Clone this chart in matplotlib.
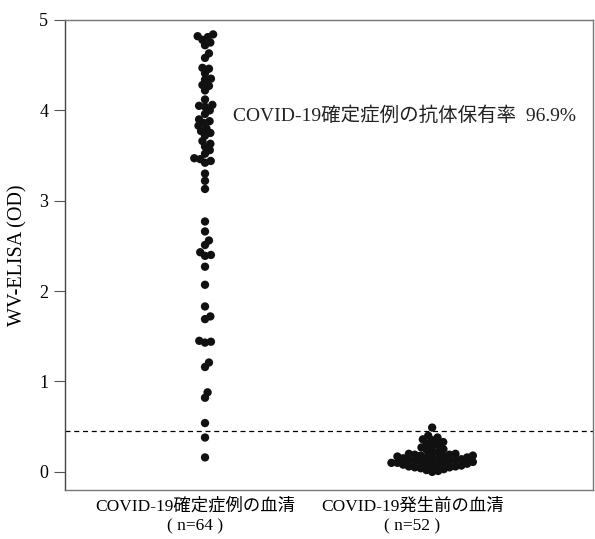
import numpy as np
import matplotlib
matplotlib.use("Agg")
import matplotlib.pyplot as plt
import matplotlib.transforms as mtransforms

# data
groups = ["COVID-19確定症例の血清\n( n=64 )", "COVID-19発生前の血清\n( n=52 )"]
confirmed = [4.84, 4.82, 4.81, 4.78, 4.75, 4.72, 4.63, 4.58,
             4.47, 4.46, 4.41, 4.35, 4.34, 4.28, 4.27, 4.22,
             4.12, 4.06, 4.05, 4.04, 4.00,
             3.96, 3.90, 3.88, 3.86, 3.83, 3.80, 3.77, 3.75, 3.72,
             3.66, 3.63, 3.60, 3.56, 3.52, 3.47, 3.46, 3.44, 3.42,
             3.30, 3.22, 3.13,
             2.77, 2.66, 2.56, 2.51, 2.43, 2.40, 2.39, 2.27, 2.07,
             1.83, 1.72, 1.69, 1.45, 1.44, 1.43,
             1.21, 1.16, 0.88, 0.82, 0.54, 0.38, 0.16]
pre_covid = [0.49,
             0.40, 0.38, 0.36, 0.35, 0.33, 0.31, 0.30, 0.28, 0.27, 0.25,
             0.24, 0.22, 0.21, 0.20, 0.20, 0.19, 0.19, 0.18, 0.18, 0.17,
             0.17, 0.16, 0.16, 0.15, 0.15, 0.14, 0.14, 0.13, 0.13, 0.12,
             0.12, 0.11, 0.11, 0.10, 0.10, 0.10, 0.09, 0.09, 0.08, 0.08,
             0.07, 0.07, 0.06, 0.06, 0.05, 0.05, 0.04, 0.03, 0.02, 0.01,
             0.00]
cutoff = 0.45
note = "COVID-19確定症例の抗体保有率  96.9%"

plt.rcParams['font.family'] = ['Liberation Serif', 'Noto Sans CJK JP', 'DejaVu Sans']

fig = plt.figure(figsize=(5.95, 5.39), dpi=100)
ax = fig.add_axes([0.109, 0.091, 0.888, 0.872])
ax.set_xlim(-0.617, 1.709)
ax.set_ylim(-0.2, 5.0)


def swarm_offsets(values, d, ypx):
    # simple beeswarm: place each point as close to the centre as possible
    placed = []
    offs = np.zeros(len(values))
    order = np.argsort(values, kind='stable')
    for i in order:
        y = values[i] * ypx
        near = [(px, py) for px, py in placed if abs(py - y) < d]
        cands = [0.0]
        for px, py in near:
            dx = np.sqrt(d * d - (py - y) ** 2)
            cands += [px + dx, px - dx]
        cands.sort(key=abs)
        for c in cands:
            if all((c - px) ** 2 + (y - py) ** 2 >= d * d - 1e-6 for px, py in near):
                offs[i] = c
                break
        placed.append((offs[i], y))
    return offs


# pixel scales of the axes
fig.canvas.draw()
bbox = ax.get_window_extent()
xpx = bbox.width / (ax.get_xlim()[1] - ax.get_xlim()[0])
ypx = bbox.height / (ax.get_ylim()[1] - ax.get_ylim()[0])
d = 6.0

for pos, vals in enumerate([confirmed, pre_covid]):
    vals = np.array(vals)
    offs = swarm_offsets(vals, d, ypx) / xpx
    ax.scatter(pos + offs, vals, s=36, color='#111111', edgecolors='none', zorder=3)

ax.axhline(cutoff, color='black', lw=0.9, ls=(0, (4, 3)))

ax.text(0.123, 3.94, note, fontsize=14, va='center', ha='left', color='#222222')

ax.set_yticks([0, 1, 2, 3, 4, 5])
ax.tick_params(axis='y', direction='out', length=8, width=0.8, color='#555555',
               labelsize=13, pad=4)
ax.set_xticks([0, 1])
ax.set_xticklabels(groups, fontsize=12.5, linespacing=1.3)
ax.tick_params(axis='x', length=0, pad=6)
for lab, dx in zip(ax.get_xticklabels(), [-10, -20]):
    lab.set_transform(lab.get_transform() + mtransforms.ScaledTranslation(dx / 100, 0, fig.dpi_scale_trans))

ax.set_ylabel("WV-ELISA (OD)", fontsize=14.5, labelpad=8)

for sp in ax.spines.values():
    sp.set_color('#777777')
    sp.set_linewidth(1.0)
ax.spines['left'].set_color('#444444')

fig.savefig("out.png", dpi=100)
